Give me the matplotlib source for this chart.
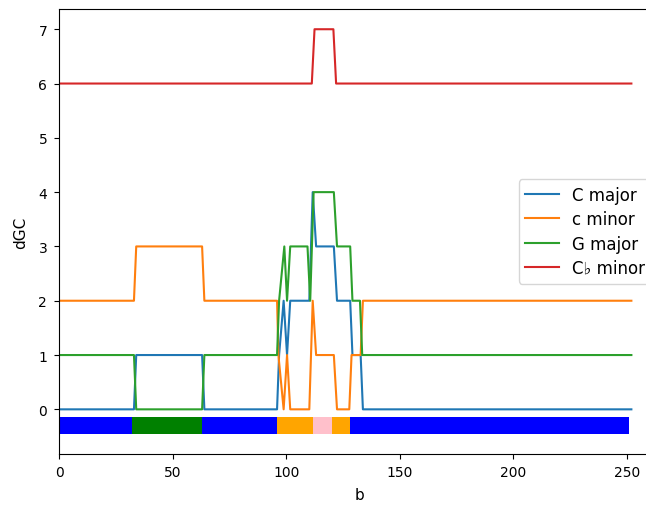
import matplotlib
matplotlib.use("Agg")
import matplotlib.pyplot as plt

# Line series (breakpoints)
c_major_x = [0, 33, 34, 63, 64, 96, 96.9, 98.9, 100.4, 101.8, 110.2, 111.7, 113.2, 121, 122.4, 128.2, 129.2, 132.8, 133.8, 252]
c_major_y = [0, 0, 1, 1, 0, 0, 1, 2, 1, 2, 2, 4, 3, 3, 2, 2, 1, 1, 0, 0]

c_minor_x = [0, 33, 34, 63, 64, 96, 96.6, 98.9, 100.4, 101.8, 110.2, 111.7, 113.2, 121, 122.4, 127.8, 128.8, 132.8, 133.8, 252]
c_minor_y = [2, 2, 3, 3, 2, 2, 1, 0, 1, 0, 0, 2, 1, 1, 0, 0, 1, 1, 2, 2]

g_major_x = [0, 33, 34, 63, 64, 96, 96.9, 99.2, 100.4, 101.8, 109.4, 110.6, 112.1, 121, 122.4, 128.2, 129.2, 132.5, 133.5, 252]
g_major_y = [1, 1, 0, 0, 1, 1, 2, 3, 2, 3, 3, 2, 4, 4, 3, 3, 2, 2, 1, 1]

cb_minor_x = [0, 111.3, 112.5, 120.8, 122, 252]
cb_minor_y = [6, 6, 7, 7, 6, 6]

series_labels = ["C major", "c minor", "G major", "C\u266d minor"]

# Key segments bar
seg_starts = [0, 32, 63, 96, 112, 120, 128]
seg_ends = [32, 63, 96, 112, 120, 128, 251]
seg_colors = ["blue", "green", "blue", "orange", "pink", "orange", "blue"]
bar_y = -0.45
bar_h = 0.3

W, H = 646, 506
fig = plt.figure(figsize=(W / 100, H / 100), dpi=100)
ax = fig.add_axes([59 / W, (H - 455) / H, (660 - 59) / W, (455 - 10) / H])

ax.plot(c_major_x, c_major_y, label=series_labels[0])
ax.plot(c_minor_x, c_minor_y, label=series_labels[1])
ax.plot(g_major_x, g_major_y, label=series_labels[2])
ax.plot(cb_minor_x, cb_minor_y, label=series_labels[3])

ax.broken_barh([(s, e - s) for s, e in zip(seg_starts, seg_ends)], (bar_y, bar_h),
               facecolors=seg_colors)

ax.set_xlim(0, 264.6)
ax.set_ylim(-0.8225, 7.3725)
ax.set_xticks([0, 50, 100, 150, 200, 250])
ax.set_yticks(range(0, 8))
ax.tick_params(axis="y", pad=5)
ax.tick_params(axis="x", pad=4.5)
ax.set_xlabel("b", fontsize=11, labelpad=6)
ax.set_ylabel("dGC", fontsize=11, labelpad=7)
ax.legend(loc="center right", fontsize=12, labelspacing=0.38)

fig.savefig("out.png", dpi=100)
